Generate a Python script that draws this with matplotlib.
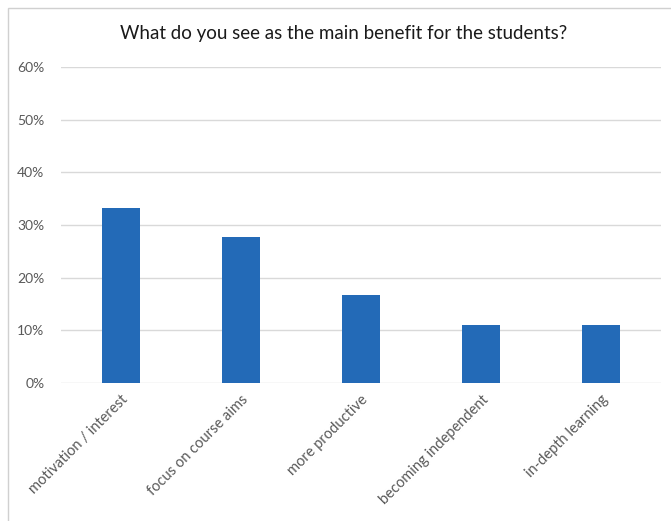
import matplotlib
matplotlib.use('Agg')
import matplotlib.pyplot as plt
from matplotlib.patches import Rectangle
from matplotlib.ticker import PercentFormatter

categories = ['motivation / interest', 'focus on course aims', 'more productive',
              'becoming independent', 'in-depth learning']
shares = [0.333, 0.278, 0.167, 0.111, 0.111]
yticks = [0, 0.1, 0.2, 0.3, 0.4, 0.5, 0.6]
title = 'What do you see as the main benefit for the students?'

plt.rcParams['font.family'] = ['Lato', 'DejaVu Sans']

fig = plt.figure(figsize=(6.71, 5.21), dpi=100)
ax = fig.add_axes([61/671, 1 - 383/521, 600/671, 316/521])

# chart border (cropped at right and bottom in the reference)
fig.patches.append(Rectangle((8/671, -0.05), 1.0, 1 - 8/521 + 0.05,
                             transform=fig.transFigure, fill=False,
                             edgecolor='#D0D0D0', linewidth=1.0))

x = range(len(categories))
ax.bar(x, shares, width=0.31, color='#236AB7', zorder=3)

ax.set_xlim(-0.5, len(categories) - 0.5)
ax.set_ylim(0, 0.6)
ax.set_yticks(yticks)
ax.yaxis.set_major_formatter(PercentFormatter(1.0, decimals=0))
ax.grid(axis='y', color='#D9D9D9', linewidth=1.0, zorder=0)
for s in ax.spines.values():
    s.set_visible(False)
ax.tick_params(axis='both', length=0, labelsize=10, labelcolor='#595959')
ax.tick_params(axis='y', pad=12)

ax.set_xticks(list(x))
ax.set_xticklabels(categories, rotation=45, ha='right', rotation_mode='anchor')
ax.tick_params(axis='x', pad=7, labelsize=10.5)

fig.text(344/671, 1 - 33/521, title, ha='center', va='center',
         fontsize=13.5, color='#1A1A1A')

fig.savefig('out.png', dpi=100)
